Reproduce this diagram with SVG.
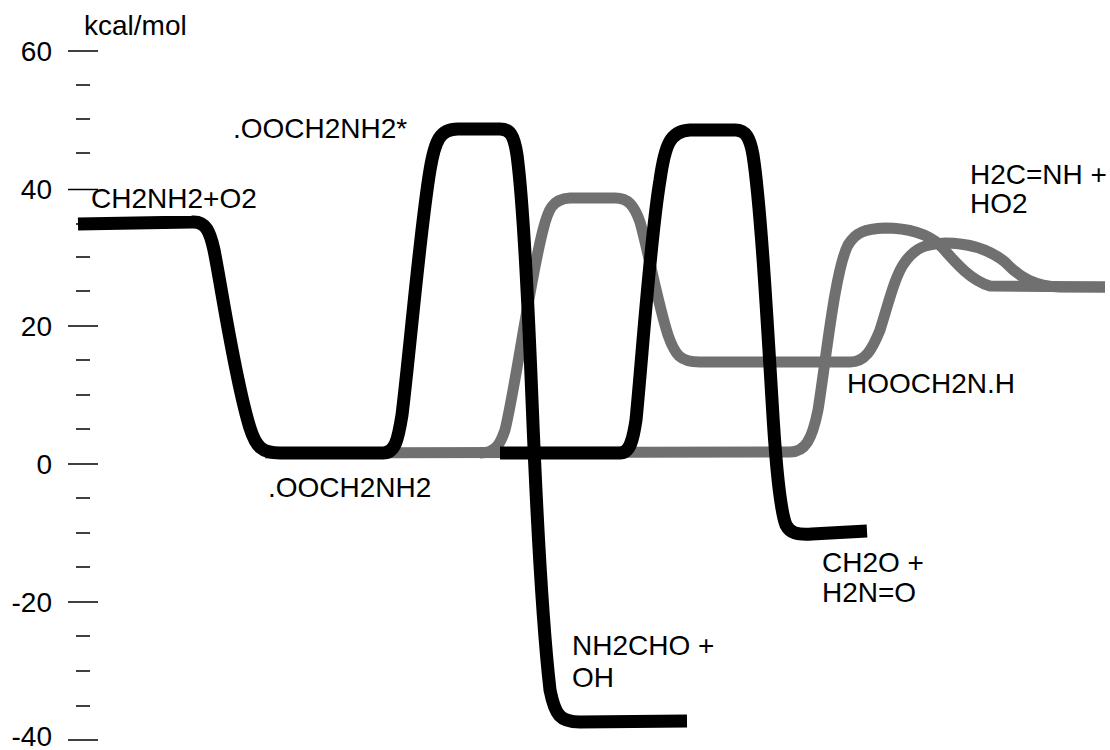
<svg xmlns="http://www.w3.org/2000/svg" width="1110" height="750" viewBox="0 0 1110 750">
<style>
text{font-family:"Liberation Sans",Arial,sans-serif;font-size:28px;fill:#000}
.tick{stroke:#000;stroke-width:1.5}
.blk{fill:none;stroke:#000;stroke-width:13;stroke-linecap:butt;stroke-linejoin:round}
.gry{fill:none;stroke:#707070;stroke-width:11;stroke-linecap:butt;stroke-linejoin:round}
</style>
<rect width="1110" height="750" fill="#fff"/>
<g id="axis">
<text x="84" y="35">kcal/mol</text>
<g text-anchor="end">
<text x="52" y="61">60</text>
<text x="52" y="199">40</text>
<text x="52" y="336">20</text>
<text x="52" y="474">0</text>
<text x="52" y="612">-20</text>
<text x="52" y="746">-40</text>
</g>
<g class="tick">
<line x1="68" y1="51" x2="98" y2="51"/>
<line x1="68" y1="189.5" x2="98" y2="189.5"/>
<line x1="68" y1="326" x2="98" y2="326"/>
<line x1="68" y1="464" x2="98" y2="464"/>
<line x1="68" y1="602" x2="98" y2="602"/>
<line x1="68" y1="740" x2="98" y2="740"/>
<line x1="76" y1="85" x2="90" y2="85"/>
<line x1="76" y1="119" x2="90" y2="119"/>
<line x1="76" y1="153" x2="90" y2="153"/>
<line x1="76" y1="224" x2="90" y2="224"/>
<line x1="76" y1="257" x2="90" y2="257"/>
<line x1="76" y1="291" x2="90" y2="291"/>
<line x1="76" y1="360" x2="90" y2="360"/>
<line x1="76" y1="395" x2="90" y2="395"/>
<line x1="76" y1="429" x2="90" y2="429"/>
<line x1="76" y1="498" x2="90" y2="498"/>
<line x1="76" y1="533" x2="90" y2="533"/>
<line x1="76" y1="567" x2="90" y2="567"/>
<line x1="76" y1="636" x2="90" y2="636"/>
<line x1="76" y1="671" x2="90" y2="671"/>
<line x1="76" y1="706" x2="90" y2="706"/>
</g>
</g>
<g id="connectors">
<path id="g-low-to-h2cnh" class="gry" d="M265,453 L790,452 C805,452 812,440 818,410 C826,360 835,270 848,245 C856,232 865,229 885,228 C905,228 925,232 940,245 C955,262 970,280 990,286 L1105,287"/>
<path id="g-ts38-hooch2nh" class="gry" d="M480,453 C495,453 500,445 505,430 C515,390 530,280 543,230 C548,210 552,199 570,198 L615,198 C628,198 634,205 640,222 C648,250 657,300 668,335 C675,355 680,362 700,362 L850,362 C865,362 872,350 880,330 C888,305 895,275 905,262 C915,248 925,244 945,243 C970,243 990,250 1005,262 C1020,278 1035,286 1060,287 L1105,287"/>
<path id="b-entry" class="blk" d="M78,224 L192,222 C206,221 210,232 214,250 C222,290 235,380 250,428 C256,447 262,453 280,453 L383,453"/>
<path id="b-ts48-nh2cho" class="blk" d="M383,453 C395,453 398,440 402,415 C410,350 420,230 430,170 C435,140 440,129 458,129 L500,129 C510,129 514,135 517,155 C523,200 528,300 532,400 C536,500 542,620 550,690 C555,715 560,722 580,722 L687,721"/>
<path id="b-ts48-ch2o" class="blk" d="M500,453 L620,453 C630,453 633,440 636,420 C642,360 650,240 660,180 C665,145 670,131 690,130 L735,130 C746,130 750,138 753,155 C760,200 766,300 772,400 C776,470 780,510 786,525 C790,533 797,535 812,534 L867,531"/>
</g>
<g id="n-reactants"><text x="91" y="208">CH2NH2+O2</text></g>
<g id="n-adduct-star"><text x="233" y="138">.OOCH2NH2*</text></g>
<g id="n-adduct"><text x="268" y="497">.OOCH2NH2</text></g>
<g id="n-h2cnh"><text x="970" y="184">H2C=NH +</text><text x="970" y="213">HO2</text></g>
<g id="n-hooch2nh"><text x="847" y="393">HOOCH2N.H</text></g>
<g id="n-ch2o"><text x="822" y="572">CH2O +</text><text x="822" y="602">H2N=O</text></g>
<g id="n-nh2cho"><text x="572" y="655">NH2CHO +</text><text x="572" y="687">OH</text></g>
</svg>
